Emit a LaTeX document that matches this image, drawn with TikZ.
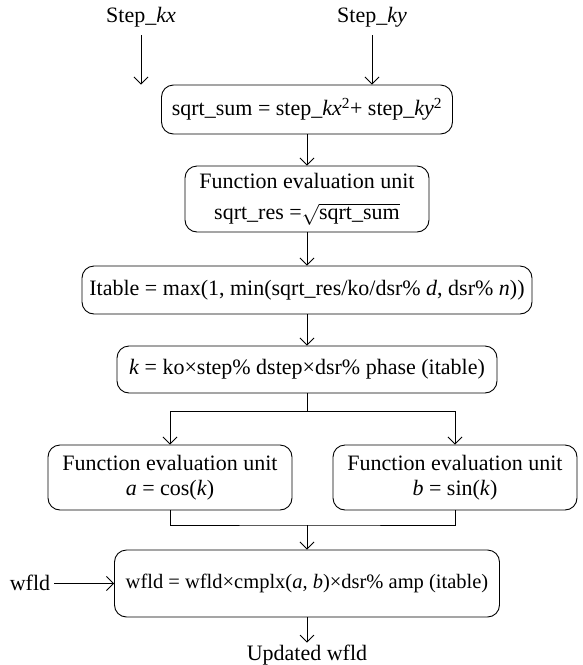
\documentclass[tikz,border=0pt]{standalone}
\usepackage{fontspec}
\setmainfont{Liberation Serif}
\usetikzlibrary{arrows.meta}
\newcommand{\mi}[1]{\textit{#1}}
\begin{document}
\begin{tikzpicture}[x=1pt,y=-1pt,font=\fontsize{22}{25}\selectfont,
  box/.style={draw, rounded corners=12pt, line width=0.9pt, align=center, inner sep=0pt},
  lbl/.style={inner sep=0pt},
  arr/.style={-{Straight Barb[length=7pt,width=14pt]}, line width=0.9pt},
  ln/.style={line width=0.9pt}]
\useasboundingbox (0,0) rectangle (582,665);

\node[lbl] (sx) at (141,17) {Step\_\mi{kx}};
\node[lbl] (sy) at (372,17) {Step\_\mi{ky}};
\coordinate (kx0) at (141,35);
\coordinate (ky0) at (372,35);

\node[box, minimum width=291pt, minimum height=49pt] (b1) at (307,109.5)
  {sqrt\_sum = step\_\mi{kx}\textsuperscript{2}+ step\_\mi{ky}\textsuperscript{2}};
\node[box, minimum width=244pt, minimum height=66pt] (b2) at (307,199)
  {Function evaluation unit\\[6pt]sqrt\_res =$\sqrt{\mbox{sqrt\_sum}}$};
\node[box, minimum width=450pt, minimum height=48pt] (b3) at (307,290)
  {Itable = max(1, min(sqrt\_res/ko/dsr\% \mi{d}, dsr\% \mi{n}))};
\node[box, minimum width=380pt, minimum height=47pt] (b4) at (307,369.5)
  {\mi{k} = ko×step\% dstep×dsr\% phase (itable)};
\node[box, minimum width=244pt, minimum height=65pt] (b5) at (170,477.5)
  {Function evaluation unit\\\mi{a} = cos(\mi{k})};
\node[box, minimum width=244pt, minimum height=65pt] (b6) at (455,477.5)
  {Function evaluation unit\\\mi{b} = sin(\mi{k})};
\node[box, minimum width=385pt, minimum height=67pt, font=\fontsize{20.5}{24}\selectfont] (b7) at (307,583.5)
  {wfld = wfld×cmplx(\mi{a}, \mi{b})×dsr\% amp (itable)};
\node[lbl] (wf) at (30,583) {wfld};
\coordinate (wf0) at (54,583.5);
\node[lbl] (up) at (307,655) {Updated wfld};

\draw[arr] (kx0) -- (kx0 |- b1.north);
\draw[arr] (ky0) -- (ky0 |- b1.north);
\draw[arr] (b1.south) -- (b2.north);
\draw[arr] (b2.south) -- (b3.north);
\draw[arr] (b3.south) -- (b4.north);
\coordinate (sp) at (307,411);
\draw[ln] (b4.south) -- (sp);
\draw[arr] (sp) -| (b5.north);
\draw[arr] (sp) -| (b6.north);
\coordinate (jn) at (307,525);
\draw[ln] (b5.south) |- (jn) -| (b6.south);
\draw[arr] (jn) -- (b7.north);
\draw[arr] (wf0) -- (b7.west);
\draw[arr] (b7.south) -- ([yshift=2pt]up.north);
\end{tikzpicture}
\end{document}
